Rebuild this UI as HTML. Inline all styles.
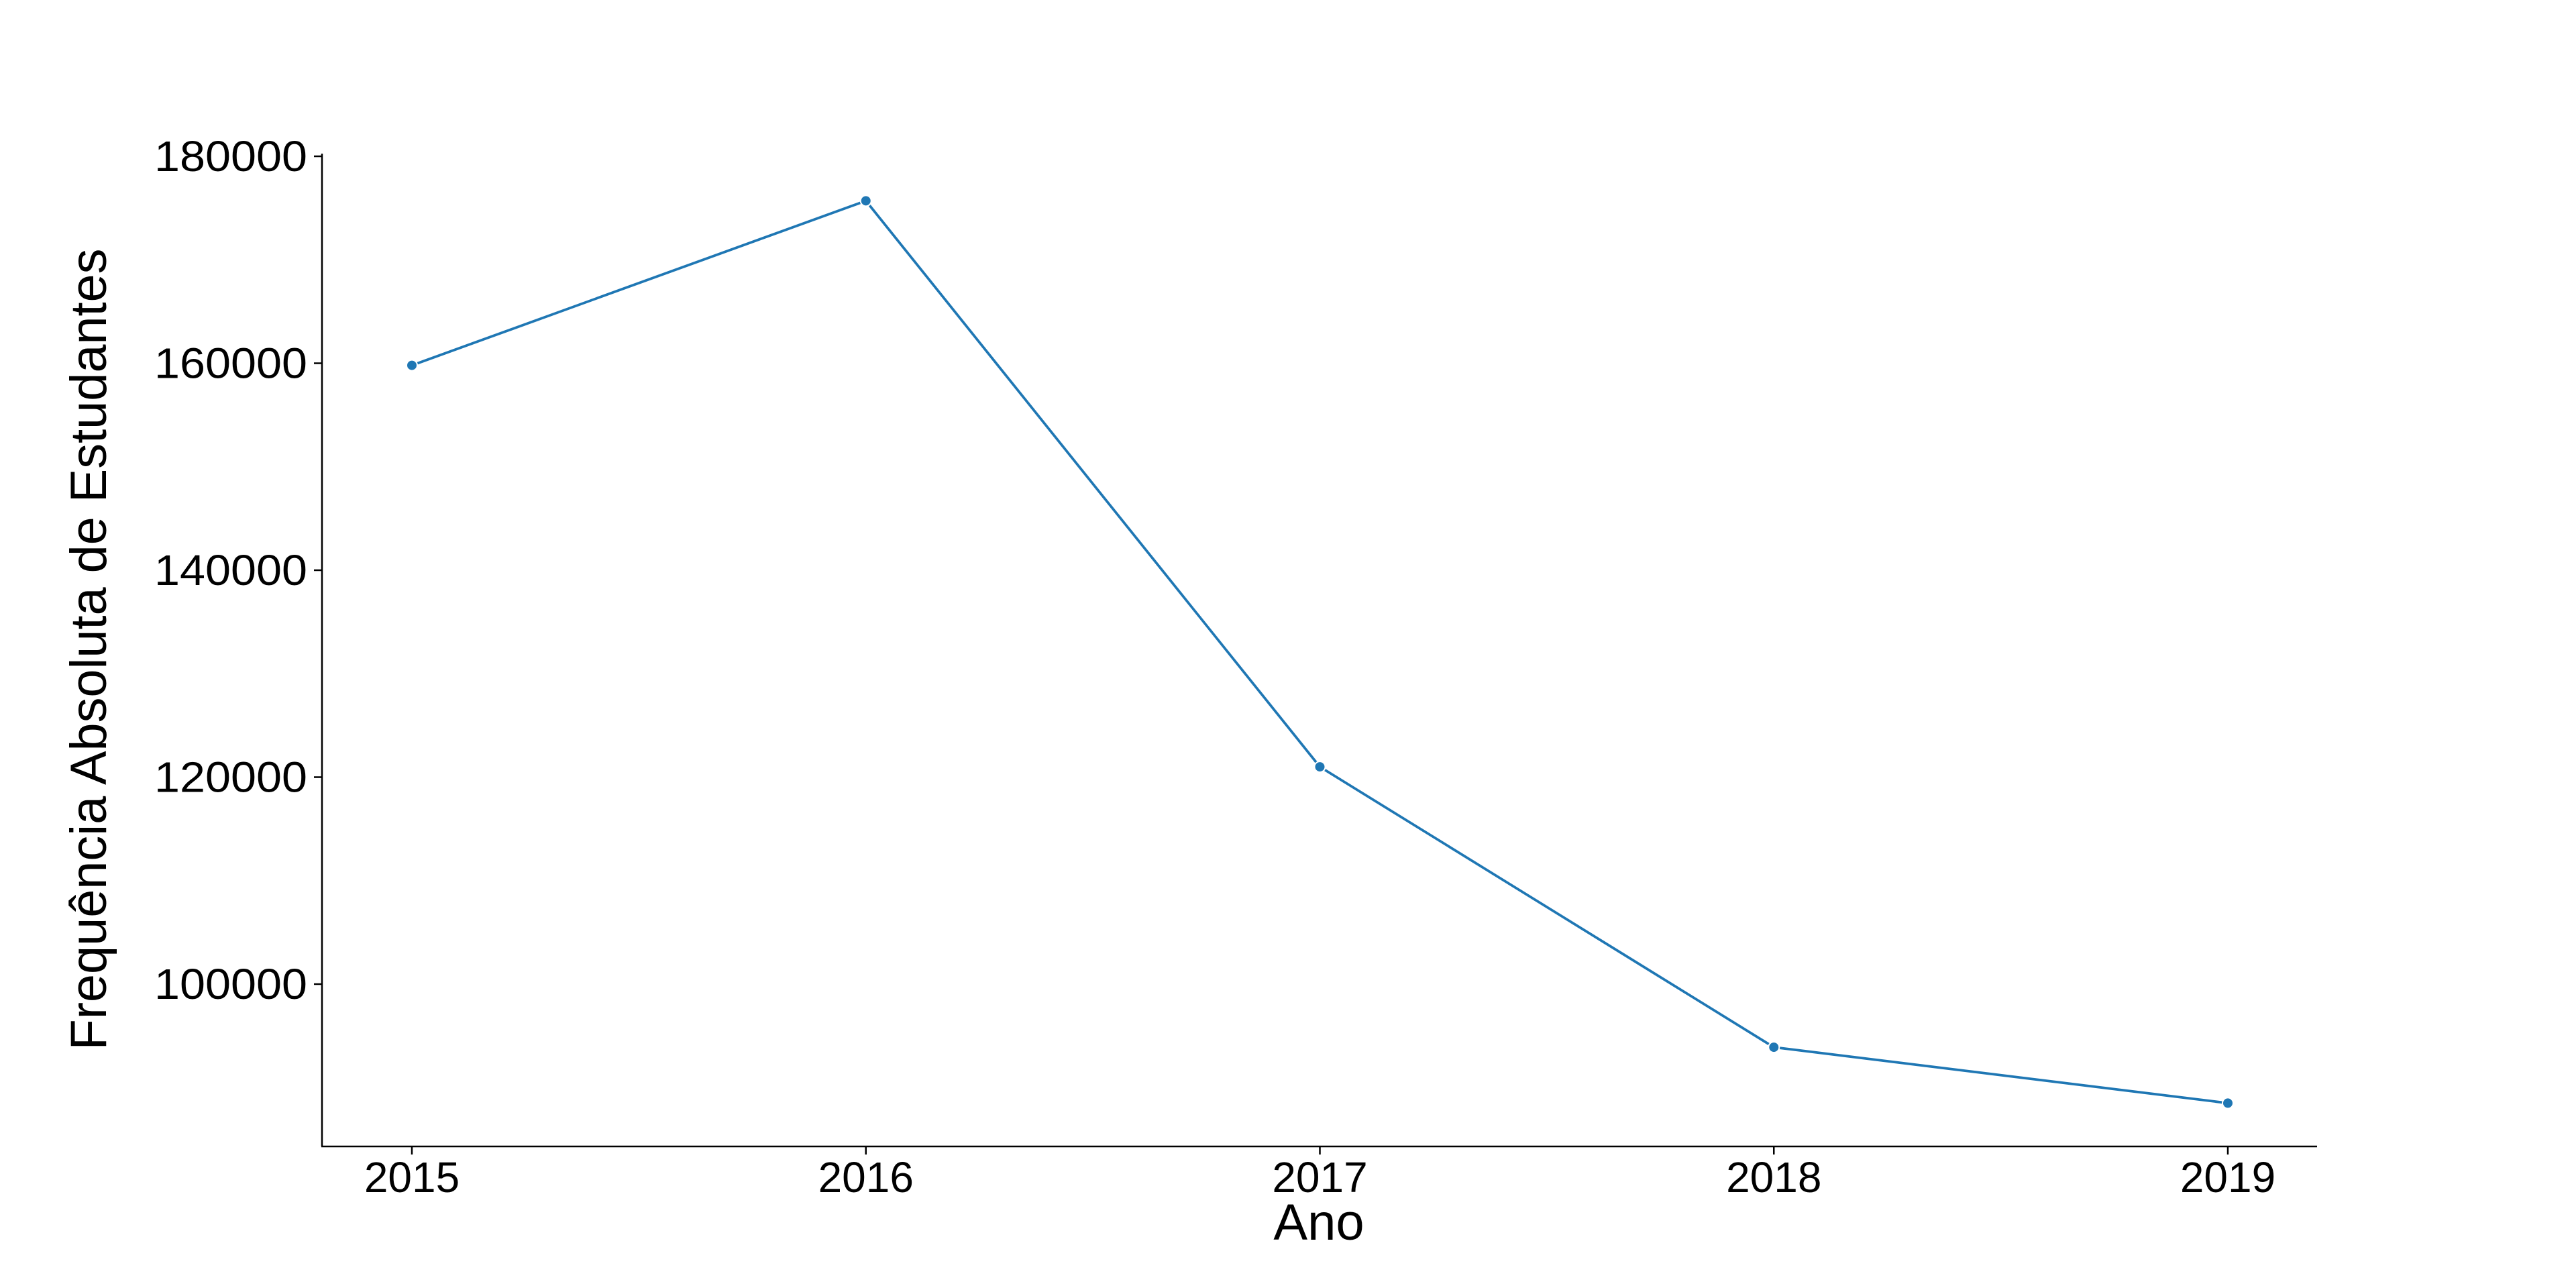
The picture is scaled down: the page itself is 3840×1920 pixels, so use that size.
<!DOCTYPE html>
<html><head><meta charset="utf-8"><style>html,body{margin:0;padding:0;background:#fff}svg{display:block}</style></head>
<body>
<svg id="chart" width="3840" height="1920" viewBox="0 0 3840 1920" xmlns="http://www.w3.org/2000/svg" font-family="Liberation Sans, sans-serif">
<rect width="3840" height="1920" fill="#fff"/>
<g id="axes"></g>
<g id="series"></g>
<text x="1966" y="1848" font-size="76" text-anchor="middle" fill="#000">Ano</text>
<text transform="translate(158,968) rotate(-90)" font-size="76" text-anchor="middle" fill="#000" textLength="1195" lengthAdjust="spacingAndGlyphs">Frequência Absoluta de Estudantes</text>
</svg>
<script>
const years = [2015, 2016, 2017, 2018, 2019];
const counts = [159800, 175700, 121000, 93900, 88500];
const yTicks = [100000, 120000, 140000, 160000, 180000];
const NS = 'http://www.w3.org/2000/svg';
function xs(i){ return 614 + i * (3321 - 614) / 4; }
function ys(v){ return 233 + (180000 - v) * (1467 - 233) / 80000; }
function mk(tag, attrs, parent){ const e = document.createElementNS(NS, tag); for (const k in attrs) e.setAttribute(k, attrs[k]); parent.appendChild(e); return e; }
const axes = document.getElementById('axes');
const series = document.getElementById('series');
const yAxis = mk('line', {x1:480, y1:229, x2:480, y2:1709, stroke:'#000', 'stroke-width':2.5}, axes);


const xAxis = mk('line', {x1:479, y1:1709, x2:3454, y2:1709, stroke:'#000', 'stroke-width':2.5}, axes);


yTicks.forEach(v => {
  const y = ys(v);
  const t = mk('line', {x1:468, y1:y, x2:480, y2:y, stroke:'#000', 'stroke-width':2.5}, axes);
  
  
  const l = mk('text', {x:458, y:y + 22, 'font-size':64, 'text-anchor':'end', fill:'#000', textLength:228, lengthAdjust:'spacingAndGlyphs'}, axes);
  l.textContent = String(v);
  
  
});
years.forEach((yr, i) => {
  const x = xs(i);
  const t = mk('line', {x1:x, y1:1709, x2:x, y2:1721, stroke:'#000', 'stroke-width':2.5}, axes);
  
  
  const l = mk('text', {x:x, y:1777, 'font-size':64, 'text-anchor':'middle', fill:'#000'}, axes);
  l.textContent = String(yr);
  
  
});
const pts = counts.map((v, i) => xs(i) + ',' + ys(v)).join(' ');
const line = mk('polyline', {points:pts, fill:'none', stroke:'#1f77b4', 'stroke-width':3.75, 'stroke-linejoin':'round'}, series);


counts.forEach((v, i) => {
  const c = mk('circle', {cx:xs(i), cy:ys(v), r:8, fill:'#1f77b4', stroke:'#fff', 'stroke-width':2}, series);
  
  
});
</script>
</body></html>
